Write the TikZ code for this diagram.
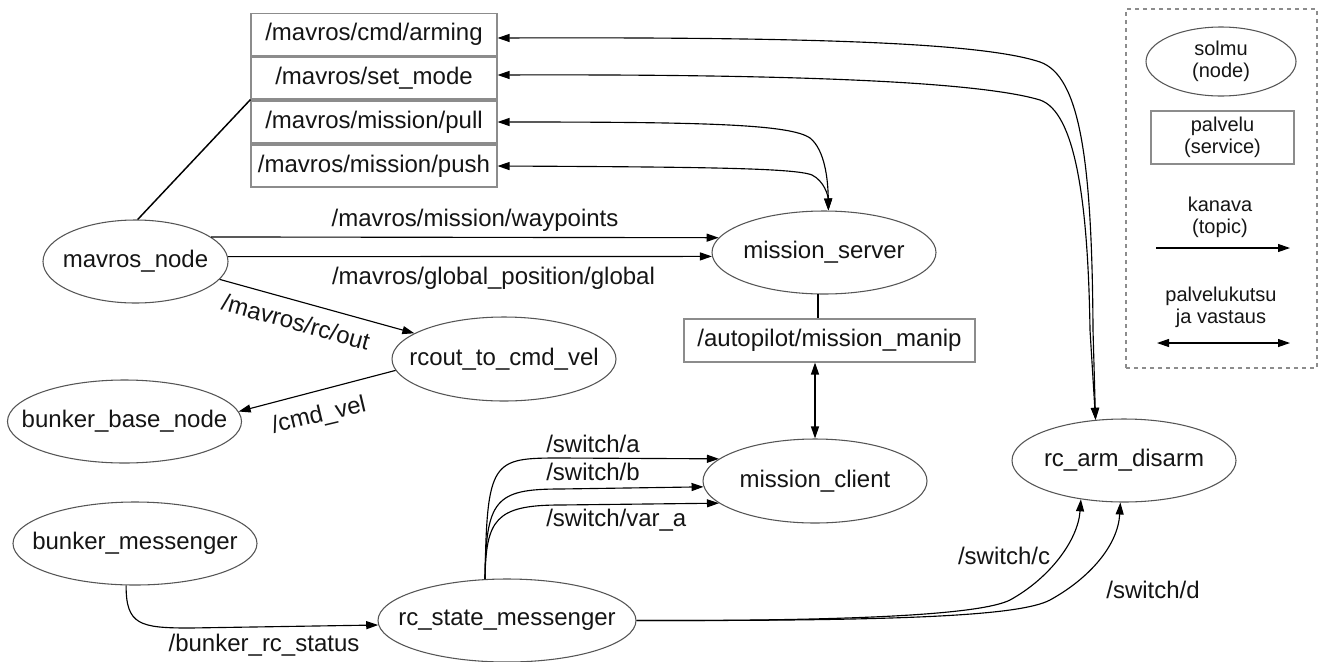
\documentclass[tikz,border=0pt]{standalone}
\usepackage{fontspec}
\setmainfont{Liberation Sans}
\usetikzlibrary{shapes.geometric,arrows.meta,calc}
\definecolor{nodegray}{HTML}{555555}
\definecolor{boxgray}{HTML}{8C8C8C}
\definecolor{txt}{HTML}{151515}
\newcommand\nlab[1]{\makebox[0pt]{#1}}
\tikzset{
  rosnode/.style={ellipse,draw=nodegray,line width=0.8pt,inner sep=0pt,text=txt,font=\fontsize{18}{21.6}\selectfont},
  srvbox/.style={rectangle,draw=boxgray,line width=0.8pt,inner sep=0pt,text=txt,font=\fontsize{18}{21.6}\selectfont},
  elabel/.style={text=txt,inner sep=0pt,font=\fontsize{18}{21.6}\selectfont},
  leglabel/.style={text=txt,inner sep=0pt,align=center,font=\fontsize{15}{16.5}\selectfont},
  edge/.style={draw=black,line width=0.85pt},
  >={Triangle[length=9pt,width=6pt]}
}
\begin{document}
\begin{tikzpicture}[x=0.75pt,y=-0.75pt]
\useasboundingbox (0,0) rectangle (1323,661);
\fill[white] (0,0) rectangle (1323,661);

% nodes (ellipses)
\node[rosnode,minimum width=138.75pt,minimum height=62.25pt] (mn) at (135.5,261.5) {\nlab{mavros\_node}};
\node[rosnode,minimum width=168pt,minimum height=62.25pt] (ms) at (824,252.5) {\nlab{mission\_server}};
\node[rosnode,minimum width=168pt,minimum height=63pt] (rc) at (504,359) {\nlab{rcout\_to\_cmd\_vel}};
\node[rosnode,minimum width=175.5pt,minimum height=62.25pt] (bb) at (124.5,421.5) {\nlab{bunker\_base\_node}};
\node[rosnode,minimum width=168pt,minimum height=63pt] (mc) at (815,481) {\nlab{mission\_client}};
\node[rosnode,minimum width=168pt,minimum height=62.25pt] (ra) at (1124,460.5) {\nlab{rc\_arm\_disarm}};
\node[rosnode,minimum width=183pt,minimum height=62.25pt] (bm) at (135,543.5) {\nlab{bunker\_messenger}};
\node[rosnode,minimum width=193.5pt,minimum height=62.25pt] (rs) at (507,620.5) {\nlab{rc\_state\_messenger}};

% services (boxes)
\node[srvbox,minimum width=184.5pt,minimum height=31.5pt] (arm) at (374,34.5) {/mavros/cmd/arming};
\node[srvbox,minimum width=184.5pt,minimum height=31.5pt] (sm) at (374,78) {/mavros/set\_mode};
\node[srvbox,minimum width=184.5pt,minimum height=31.5pt] (pl) at (374,122) {/mavros/mission/pull};
\node[srvbox,minimum width=184.5pt,minimum height=31.5pt] (ps) at (374,166) {/mavros/mission/push};
\node[srvbox,minimum width=218.25pt,minimum height=32.25pt] (mm) at (829.5,340.5) {/autopilot/mission\_manip};

% plain connections
\draw[edge,line width=1.1pt] (mn.87) -- (sm.south west);
\draw[edge,line width=1.1pt] (ms.262) -- (ms.262 |- mm.north);
\draw[edge,<->] (mc.north |- mm.south) -- (mc.north);

% topics
\draw[edge,->] (mn.18.7) -- (ms.172.9);
\draw[edge,->] (mn.3.4) -- (ms.182.8);
\draw[edge,->] (mn.-12.6) -- (rc.164.8);
\draw[edge,->] (rc.186.9) -- (bb.5.8);
\draw[edge,->] (bm.-102) .. controls (126,625) and (140,628) .. (190,628) -- (rs.182);
\draw[edge,->] (rs.118) .. controls (487,460) and (492,458) .. (560,458) -- (mc.167);
\draw[edge,->] (rs.118) .. controls (486,500) and (495,489) .. (560,489) -- (mc.183.6);
\draw[edge,->] (rs.118) .. controls (486,520) and (495,505) .. (560,505) -- (mc.193);
\draw[edge,->] (rs.east) .. controls (850,621) and (980,615) .. (1010,600) .. controls (1050,578) and (1078,540) .. (ra.222);
\draw[edge,->] (rs.east) .. controls (900,621) and (1020,616) .. (1050,600) .. controls (1090,578) and (1118,545) .. (ra.265);

% service calls
\draw[edge,<->] ($(arm.east)+(0,3.5)$) .. controls (800,37) and (980,42) .. (1040,62) .. controls (1080,76) and (1092,160) .. (1093,330) -- (ra.125);
\draw[edge,<->] ($(sm.east)+(0,-3)$) .. controls (800,74) and (980,82) .. (1040,100) .. controls (1075,112) and (1088,200) .. (1090,330) -- (ra.125);
\draw[edge,<->] (pl.east) .. controls (700,122) and (790,124) .. (810,138) .. controls (825,150) and (828,180) .. (ms.84);
\draw[edge,<->] (ps.east) .. controls (700,167) and (795,168) .. (812,175) .. controls (824,181) and (828,195) .. (ms.84);

% edge labels
\node[elabel] (lwp) at (475,220) {/mavros/mission/waypoints};
\node[elabel] (lgp) at (493.5,278) {/mavros/global\_position/global};
\node[elabel,rotate=-15.5] (lrc) at (296,322) {/mavros/rc/out};
\node[elabel,rotate=13.4] (lcv) at (319,416) {/cmd\_vel};
\node[elabel] (lbs) at (264,645) {/bunker\_rc\_status};
\node[elabel,anchor=west] (lsa) at (546,444) {/switch/a};
\node[elabel,anchor=west] (lsb) at (546,472) {/switch/b};
\node[elabel,anchor=west] (lsv) at (546,520) {/switch/var\_a};
\node[elabel] (lsc) at (1004,556) {/switch/c};
\node[elabel] (lsd) at (1153,590) {/switch/d};

% legend
\node[draw=boxgray,dashed,line width=0.8pt,minimum width=143.25pt,minimum height=269.25pt,inner sep=0pt] (leg) at (1221.5,188.5) {};
\node[ellipse,draw=nodegray,line width=0.8pt,inner sep=0pt,minimum width=112.5pt,minimum height=51.75pt,leglabel] (lgn) at (1221,61.5) {solmu\\(node)};
\node[rectangle,draw=boxgray,line width=0.8pt,inner sep=0pt,minimum width=107.25pt,minimum height=39.75pt,leglabel] (lgs) at (1222.5,137.5) {palvelu\\(service)};
\node[leglabel] (lgt) at (1220,217) {kanava\\(topic)};
\node[leglabel] (lgc) at (1221,307) {palvelukutsu\\ja vastaus};
\coordinate (t1) at (1156,248);
\coordinate (t2) at (1290,248);
\coordinate (c1) at (1157,343);
\coordinate (c2) at (1290,343);
\draw[edge,->] (t1) -- (t2);
\draw[edge,<->] (c1) -- (c2);
\end{tikzpicture}
\end{document}
